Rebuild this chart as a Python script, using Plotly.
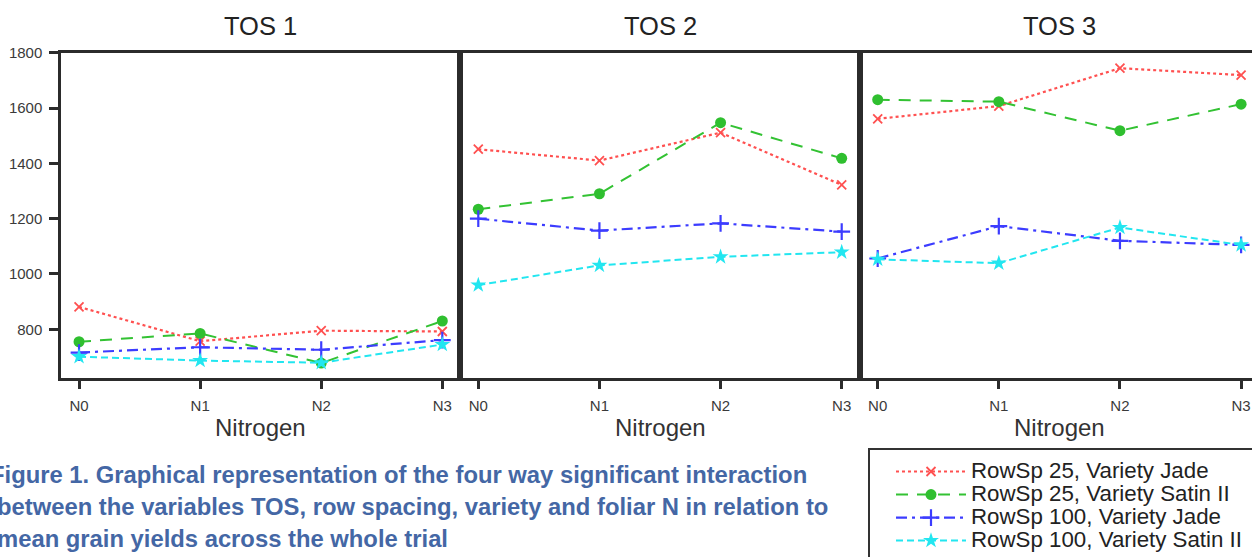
import plotly.graph_objects as go

# Nitrogen levels and yields (kg/ha) per time of sowing
nitrogen = ["N0", "N1", "N2", "N3"]
panel_titles = ["TOS 1", "TOS 2", "TOS 3"]
series_names = [
    "RowSp 25, Variety Jade",
    "RowSp 25, Variety Satin II",
    "RowSp 100, Variety Jade",
    "RowSp 100, Variety Satin II",
]

tos1_jade25 = [881, 757, 795, 792]
tos1_satin25 = [755, 785, 678, 830]
tos1_jade100 = [716, 735, 726, 761]
tos1_satin100 = [701, 687, 679, 745]

tos2_jade25 = [1451, 1410, 1511, 1322]
tos2_satin25 = [1234, 1290, 1547, 1418]
tos2_jade100 = [1200, 1157, 1183, 1153]
tos2_satin100 = [960, 1031, 1062, 1079]

tos3_jade25 = [1561, 1607, 1744, 1719]
tos3_satin25 = [1630, 1623, 1518, 1614]
tos3_jade100 = [1056, 1173, 1120, 1105]
tos3_satin100 = [1053, 1039, 1168, 1105]

panels = [
    [tos1_jade25, tos1_satin25, tos1_jade100, tos1_satin100],
    [tos2_jade25, tos2_satin25, tos2_jade100, tos2_satin100],
    [tos3_jade25, tos3_satin25, tos3_jade100, tos3_satin100],
]

W, H = 1252, 557


def px(x):
    return x / W


def py(y):
    return 1 - y / H


styles = [
    dict(color="#ff5050", dash="dot", width=2.2,
         marker=dict(symbol="x-thin-open", size=9, line=dict(width=1.8, color="#ff5050"))),
    dict(color="#33c233", dash="12px,9px", width=2.0,
         marker=dict(symbol="circle", size=11, color="#2fbf2f")),
    dict(color="#3c3cff", dash="11px,5px,3px,5px", width=2.2,
         marker=dict(symbol="cross-thin-open", size=12, line=dict(width=2.2, color="#3c3cff"))),
    dict(color="#22e6f0", dash="7px,4px", width=2.0,
         marker=dict(symbol="star", size=12, color="#22e6f0")),
]

fig = go.Figure()

for p, series in enumerate(panels):
    ax = "" if p == 0 else str(p + 1)
    for s, values in enumerate(series):
        st = styles[s]
        fig.add_trace(go.Scatter(
            x=nitrogen, y=values,
            xaxis="x" + ax, yaxis="y" + ax,
            mode="lines+markers",
            name='<span style="font-size:22.3px">' + series_names[s] + "</span>",
            legendgroup=series_names[s],
            showlegend=(p == 0),
            line=dict(color=st["color"], dash=st["dash"], width=st["width"]),
            marker=st["marker"],
            hoverinfo="skip",
        ))

# panel geometry in pixels
x_edges = [(61, 460), (460, 860), (860, 1252)]
x_ranges = [[-0.149, 3.146], [-0.151, 3.151], [-0.146, 3.09]]
y_top, y_bot = 52.7, 377.7
axis_col = "#2b2b2b"
tick_font = dict(family="Liberation Sans, Arial, sans-serif", size=15, color="#3a3a3a")

layout = dict(
    width=W, height=H,
    margin=dict(l=0, r=0, t=0, b=0, autoexpand=False),
    paper_bgcolor="white", plot_bgcolor="white",
    showlegend=True,
    legend=dict(
        x=px(891), y=py(455), xanchor="left", yanchor="top",
        bgcolor="rgba(0,0,0,0)", borderwidth=0,
        font=dict(family="Liberation Sans, Arial, sans-serif", size=15.4, color="#222"),
        tracegroupgap=0, itemwidth=70,
    ),
)

for p in range(3):
    ax = "" if p == 0 else str(p + 1)
    x0, x1 = x_edges[p]
    layout["xaxis" + ax] = dict(
        domain=[px(x0), px(x1)], anchor="y" + ax,
        type="category", range=x_ranges[p],
        showline=True, mirror=True, linecolor=axis_col, linewidth=2.5,
        ticks="outside", ticklen=9, tickwidth=2.5, tickcolor=axis_col,
        tickfont=tick_font, ticklabelstandoff=4,
        showgrid=False, zeroline=False, fixedrange=True, automargin=False,
    )
    layout["yaxis" + ax] = dict(
        domain=[py(y_bot), py(y_top)], anchor="x" + ax,
        range=[625, 1800], dtick=200, tick0=0,
        showline=True, mirror=(p < 2), linecolor=axis_col, linewidth=2.5,
        ticks="outside" if p == 0 else "", ticklen=9, tickwidth=2.5, tickcolor=axis_col,
        showticklabels=(p == 0), tickfont=tick_font, ticklabelstandoff=4,
        showgrid=False, zeroline=False, fixedrange=True, automargin=False,
    )

fig.update_layout(**layout)

# panel titles and x-axis titles
for p in range(3):
    ax = "" if p == 0 else str(p + 1)
    fig.add_annotation(
        text=panel_titles[p], xref="x" + ax, yref="paper",
        x=1.5, y=py(26), xanchor="center", yanchor="middle",
        showarrow=False,
        font=dict(family="Liberation Sans, Arial, sans-serif", size=25.5, color="#222"),
    )
    fig.add_annotation(
        text="Nitrogen", xref="x" + ax, yref="paper",
        x=1.5, y=py(427), xanchor="center", yanchor="middle",
        showarrow=False,
        font=dict(family="Liberation Sans, Arial, sans-serif", size=24, color="#333"),
    )

# legend frame
fig.add_shape(
    type="rect", xref="paper", yref="paper",
    x0=px(869), x1=px(1270), y0=py(449), y1=py(575),
    line=dict(color="#333", width=2), fillcolor="rgba(0,0,0,0)", layer="above",
)

# figure caption
caption_lines = [
    ("Figure 1. Graphical representation of the four way significant interaction", -12, 474),
    ("between the variables TOS, row spacing, variety and foliar N in relation to", -5, 506),
    ("mean grain yields across the whole trial", -5, 538),
]
for text, cx, cy in caption_lines:
    fig.add_annotation(
        text="<b>" + text + "</b>", xref="paper", yref="paper",
        x=px(cx), y=py(cy), xanchor="left", yanchor="middle",
        showarrow=False,
        font=dict(family="Liberation Sans, Arial, sans-serif", size=23.8, color="#4467a5"),
    )

fig.write_html("out.html")
